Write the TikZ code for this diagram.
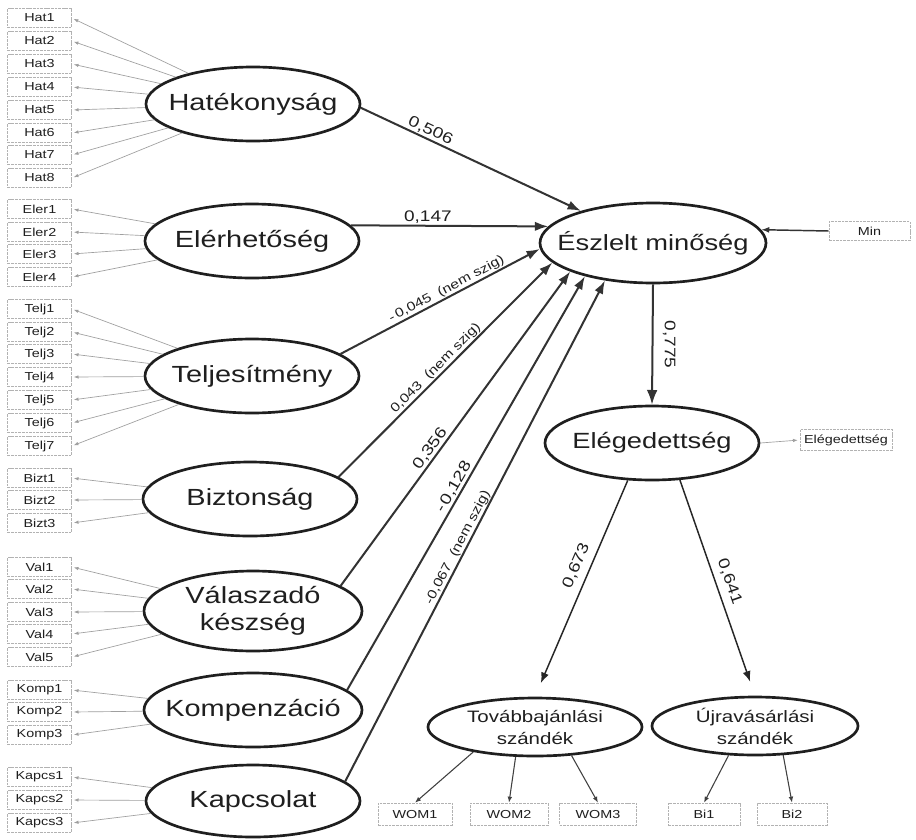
\documentclass[tikz,border=0pt]{standalone}
\usepackage{fontspec}
\setmainfont[FakeStretch=1.24]{Liberation Sans}
\usetikzlibrary{arrows.meta,shapes.geometric}
\begin{document}
\begin{tikzpicture}[x=0.75pt,y=-0.75pt,
  % latent constructs: arguments are the half axes in px
  lat/.style 2 args={ellipse, draw=black!88, line width=2pt, inner sep=0pt,
    minimum width=#1*1.5pt, minimum height=#2*1.5pt},
  lattxt/.style={inner sep=0pt, text=black!88, align=center,
    font=\fontsize{17.5}{20}\selectfont},
  righttxt/.style={inner sep=0pt, text=black!88, align=center,
    font=\fontsize{16.5}{19}\selectfont},
  smalltxt/.style={inner sep=0pt, text=black!88, align=center,
    font=\fontsize{12.4}{16.5}\selectfont},
  % observed indicators
  ind/.style={draw=gray!60, line width=0.5pt, dash pattern=on 2pt off 0.7pt,
    minimum width=#1*0.75pt, minimum height=19*0.75pt, inner sep=0pt,
    text=black!88, font=\fontsize{8.7}{10}\selectfont},
  ind/.default=64,
  % connectors
  loadl/.style={draw=gray!75, line width=0.5pt,
    -{Latex[length=3.5pt,width=2.6pt]}, shorten >=1.5pt},
  strpath/.style={draw=black!80, line width=1.5pt,
    -{Latex[length=10pt,width=7pt]}},
  botl/.style={draw=black!75, line width=0.8pt,
    -{Latex[length=4.5pt,width=3.5pt]}},
  lbl/.style={inner sep=1pt, text=black!88, font=\fontsize{11.5}{13}\selectfont},
  nslbl/.style={inner sep=0.5pt, text=black!88, font=\fontsize{9.5}{11}\selectfont},
]
\fill[white] (0,0) rectangle (916,839);
\useasboundingbox (0,0) rectangle (916,839);

% ---------- exogenous constructs ----------
\node[lat={107}{37}] (hat) at (253,104) {};
\node[lattxt] (hat-t) at (hat) {Hatékonyság};
\node[lat={107}{37}] (ele) at (252,241) {};
\node[lattxt] (ele-t) at (ele) {Elérhetőség};
\node[lat={107}{37}] (tel) at (252,376) {};
\node[lattxt] (tel-t) at (tel) {Teljesítmény};
\node[lat={107}{37}] (biz) at (250,499) {};
\node[lattxt] (biz-t) at (biz) {Biztonság};
\node[lat={109}{40}] (val) at (253,611) {};
\node[lattxt] (val-t) at (val) {Válaszadó\\készség};
\node[lat={109}{37}] (kom) at (253,710) {};
\node[lattxt] (kom-t) at (kom) {Kompenzáció};
\node[lat={107}{36}] (kap) at (253,801) {};
\node[lattxt] (kap-t) at (kap) {Kapcsolat};

% ---------- endogenous constructs ----------
\node[lat={113}{40}] (esz) at (653,243) {};
\node[righttxt] (esz-t) at (esz) {Észlelt minőség};
\node[lat={107}{37}] (eleg) at (652,443) {};
\node[righttxt] (eleg-t) at (eleg) {Elégedettség};
\node[lat={107}{29}] (tov) at (535,727) {};
\node[smalltxt] (tov-t) at (tov) {Továbbajánlási\\szándék};
\node[lat={103}{29}] (ujr) at (755,726) {};
\node[smalltxt] (ujr-t) at (ujr) {Újravásárlási\\szándék};

% ---------- indicators on the left ----------
\foreach \i/\y in {1/18,2/41,3/64,4/87,5/110,6/133,7/155,8/178}
  {\node[ind] (hat\i) at (39.5,\y) {Hat\i};
   \draw[loadl] (hat) -- (hat\i.east);}
\foreach \i/\y in {1/209,2/232,3/254,4/277}
  {\node[ind] (ele\i) at (39.5,\y) {Eler\i};
   \draw[loadl] (ele) -- (ele\i.east);}
\foreach \i/\y in {1/309,2/332,3/354,4/377,5/400,6/423,7/446}
  {\node[ind] (tel\i) at (39.5,\y) {Telj\i};
   \draw[loadl] (tel) -- (tel\i.east);}
\foreach \i/\y in {1/478,2/500,3/523}
  {\node[ind] (biz\i) at (39.5,\y) {Bizt\i};
   \draw[loadl] (biz) -- (biz\i.east);}
\foreach \i/\y in {1/567,2/589,3/612,4/634,5/657}
  {\node[ind] (val\i) at (39.5,\y) {Val\i};
   \draw[loadl] (val) -- (val\i.east);}
\foreach \i/\y in {1/690,2/712,3/735}
  {\node[ind] (kom\i) at (39.5,\y) {Komp\i};
   \draw[loadl] (kom) -- (kom\i.east);}
\foreach \i/\y in {1/777,2/800,3/823}
  {\node[ind] (kap\i) at (39.5,\y) {Kapcs\i};
   \draw[loadl] (kap) -- (kap\i.east);}

% ---------- indicators on the right and bottom ----------
\node[ind=81] (minb) at (869.5,231) {Min};
\node[ind=92, minimum height=21*0.75pt] (elegb) at (846,440) {Elégedettség};
\node[ind=74, minimum height=22*0.75pt] (wom1) at (415,814) {WOM1};
\node[ind=78, minimum height=22*0.75pt] (wom2) at (509,814) {WOM2};
\node[ind=77, minimum height=22*0.75pt] (wom3) at (598,814) {WOM3};
\node[ind=72, minimum height=22*0.75pt] (bi1) at (704,814) {Bi1};
\node[ind=70, minimum height=22*0.75pt] (bi2) at (792,814) {Bi2};

\draw[draw=black!80, line width=1.1pt, -{Latex[length=6pt,width=4.5pt]}]
  (minb.west) -- (esz.7);
\draw[loadl] (eleg.east) -- (elegb.west);

\draw[botl] (tov.202) -- (wom1.north);
\draw[botl] (tov.237) -- (wom2.north);
\draw[botl] (tov.322) -- (wom3.north);
\draw[botl] (ujr.228) -- (bi1.north);
\draw[botl] (ujr.314) -- (bi2.north);

% ---------- structural paths ----------
\draw[strpath] (hat.-2) -- node[lbl, sloped, above, pos=.3] (p1) {0,506} (esz.156);
\draw[strpath] (ele.9) -- node[lbl, above, pos=.39] (p2) {0,147} (esz.171);
\draw[strpath] (tel.14) -- node[nslbl, sloped, above, pos=.55] (p3) {-\,0,045\ \ (nem szig)} (esz.183);
\draw[strpath] (biz.14) -- node[nslbl, sloped, above, pos=.48] (p4) {0,043\ \ (nem szig)} (esz.191);
\draw[strpath] (val.16) -- node[lbl, sloped, above, pos=.42] (p5) {0,356} (esz.199);
\draw[strpath] (kom.12) -- node[lbl, sloped, above, pos=.48] (p6) {-\,0,128} (esz.206);
\draw[strpath] (kap.12) -- node[nslbl, sloped, above, pos=.46] (p7) {-0,067\ \ (nem szig)} (esz.218);

\draw[draw=black!80, line width=1.5pt, -{Latex[length=11pt,width=8pt]}]
  (esz.south) -- node[lbl, rotate=-90, anchor=south, inner sep=7pt, pos=.5] (p8) {0,775} (eleg.north);

\draw[draw=black!85, line width=1.1pt, -{Latex[length=8pt,width=6pt]}, shorten >=11pt]
  (eleg.237) -- node[lbl, sloped, above, inner sep=5pt, pos=.42] (p9) {0,673} (tov.north);
\draw[draw=black!85, line width=1.1pt, -{Latex[length=8pt,width=6pt]}, shorten >=11pt]
  (eleg.307) -- node[lbl, sloped, above, inner sep=5pt, pos=.49] (p10) {0,641} (ujr.north);
\end{tikzpicture}
\end{document}
